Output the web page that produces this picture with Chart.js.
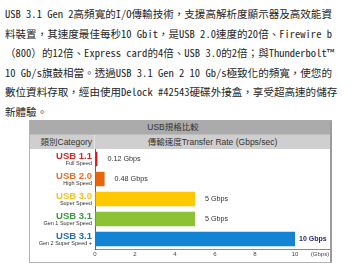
<!DOCTYPE html>
<html>
<head>
<meta charset="utf-8">
<script src="https://cdn.jsdelivr.net/npm/chart.js@4"></script>
<style>
    body { margin: 0; width: 360px; height: 270px; background: #fff; position: relative; overflow: hidden; }
    #intro { position: absolute; left: 5px; top: 4px; font-family: "Noto Sans Mono CJK TC", "Noto Sans CJK TC", monospace; font-size: 10.55px; line-height: 19.5px; color: #262626; white-space: nowrap; }
    #box { position: absolute; left: 29px; top: 120px; width: 303px; height: 143px; box-sizing: border-box; border: 1px solid #b4b4b4; border-right: 2px solid #9c9c9c; }
    .row { position: absolute; left: 30px; width: 300px; height: 14px; font-family: "Liberation Sans", "Noto Sans CJK TC", sans-serif; font-size: 8.5px; line-height: 14px; color: #333; }
    #r1 { top: 120px; background: #ababab; text-align: center; text-indent: -14px; }
    #r2 { top: 134px; background: #cfcfcf; border-top: 1px solid #bdbdbd; }
    #r2 .c1 { position: absolute; left: 0; width: 62px; text-align: right; border-right: 1px solid #e4e4e4; padding-right: 2px; }
    #r2 .c2 { position: absolute; left: 65px; width: 235px; text-align: center; }
    #wrap { position: absolute; left: 30px; top: 148px; width: 300px; height: 113px; }
</style>
</head>
<body>
<div id="intro">
    <div>USB 3.1 Gen 2高頻寬的I/O傳輸技術，支援高解析度顯示器及高效能資</div>
    <div>料裝置，其速度最佳每秒10 Gbit，是USB 2.0速度的20倍、Firewire b</div>
    <div>（800）的12倍、Express card的4倍、USB 3.0的2倍；與Thunderbolt™</div>
    <div>10 Gb/s旗鼓相當。透過USB 3.1 Gen 2 10 Gb/s極致化的頻寬，使您的</div>
    <div>數位資料存取，經由使用Delock #42543硬碟外接盒，享受超高速的儲存</div>
    <div>新體驗。</div>
</div>
<div id="box"></div>
<div class="row" id="r1">USB規格比較</div>
<div class="row" id="r2"><div class="c1">類別Category</div><div class="c2">傳輸速度Transfer Rate (Gbps/sec)</div></div>
<div id="wrap"><canvas id="usb_chart"></canvas></div>
<script>
const categories = ['USB 1.1', 'USB 2.0', 'USB 3.0', 'USB 3.1', 'USB 3.1'];
const subtitles = ['Full Speed', 'High Speed', 'Super Speed', 'Gen 1 Super Speed', 'Gen 2 Super Speed +'];
const speeds = [0.12, 0.48, 5, 5, 10];
const speed_labels = ['0.12 Gbps', '0.48 Gbps', '5 Gbps', '5 Gbps', '10 Gbps'];
const x_ticks = [0, 2, 4, 6, 8, 10];
const unit_label = '(Gbps)';

const bar_colors = ['#d2171f', '#e8650c', '#ffc800', '#8cc234', '#1383d4'];
const name_colors = ['#d42a2a', '#e8702a', '#f6c21c', '#3a9a3a', '#2a6cb4'];

const usb_chart = document.getElementById('usb_chart');

// category names, value labels and the unit are painted on top of the scales
const labels_plugin = {
    id: 'usb_labels',
    afterDatasetsDraw(chart) {
        const ctx = chart.ctx;
        const xs = chart.scales.x;
        const ys = chart.scales.y;
        ctx.save();
        ctx.textBaseline = 'middle';
        categories.forEach((name, i) => {
            const py = ys.getPixelForValue(i);
            ctx.textAlign = 'right';
            ctx.fillStyle = name_colors[i];
            ctx.font = 'bold 9.5px "Liberation Sans", Arial, sans-serif';
            ctx.fillText(name, xs.left - 3, py - 2.5);
            ctx.fillStyle = '#333';
            ctx.font = '5.5px "Liberation Sans", Arial, sans-serif';
            ctx.fillText(subtitles[i], xs.left - 3, py + 4.5);
        });
        chart.getDatasetMeta(0).data.forEach((bar, i) => {
            const last = i == speeds.length - 1;
            ctx.textAlign = 'left';
            ctx.fillStyle = last ? '#1f2f78' : '#333';
            ctx.font = (last ? 'bold 7px ' : '7.2px ') + '"Liberation Sans", Arial, sans-serif';
            const tx = last ? bar.x + 4 : Math.max(bar.x + 10, xs.getPixelForValue(0.6));
            ctx.fillText(speed_labels[i], tx, bar.y);
        });
        ctx.textAlign = 'center';
        ctx.fillStyle = '#444';
        ctx.font = '6px "Liberation Sans", Arial, sans-serif';
        ctx.fillText(unit_label, xs.getPixelForValue(11.25), xs.top + 5);
        ctx.restore();
    }
};

new Chart(usb_chart, {
    type: 'bar',
    data: {
        labels: categories,
        datasets: [{
            label: 'Transfer Rate',
            data: speeds,
            backgroundColor: bar_colors,
            borderWidth: 0,
            barPercentage: 0.72,
            categoryPercentage: 1
        }]
    },
    options: {
        indexAxis: 'y',
        responsive: true,
        maintainAspectRatio: false,
        animation: false,
        layout: { padding: { top: 1, left: 0, right: 0, bottom: 0 } },
        plugins: { legend: { display: false }, tooltip: { enabled: false } },
        scales: {
            x: {
                min: 0,
                max: 11.75,
                afterBuildTicks(scale) {
                    scale.ticks = x_ticks.map(v => ({ value: v }));
                },
                afterFit(scale) { scale.height = 12; },
                grid: { display: true, drawOnChartArea: false, drawTicks: false },
                border: { display: true, color: '#8a8a8a', width: 1 },
                ticks: {
                    padding: 2,
                    color: '#444',
                    font: { family: '"Liberation Sans", Arial, sans-serif', size: 6 },
                    maxRotation: 0
                }
            },
            y: {
                afterFit(scale) { scale.width = 65; },
                grid: { display: true, drawOnChartArea: false, drawTicks: false },
                border: { display: true, color: '#666', width: 1 },
                ticks: { display: false }
            }
        }
    },
    plugins: [labels_plugin]
});
</script>
</body>
</html>
